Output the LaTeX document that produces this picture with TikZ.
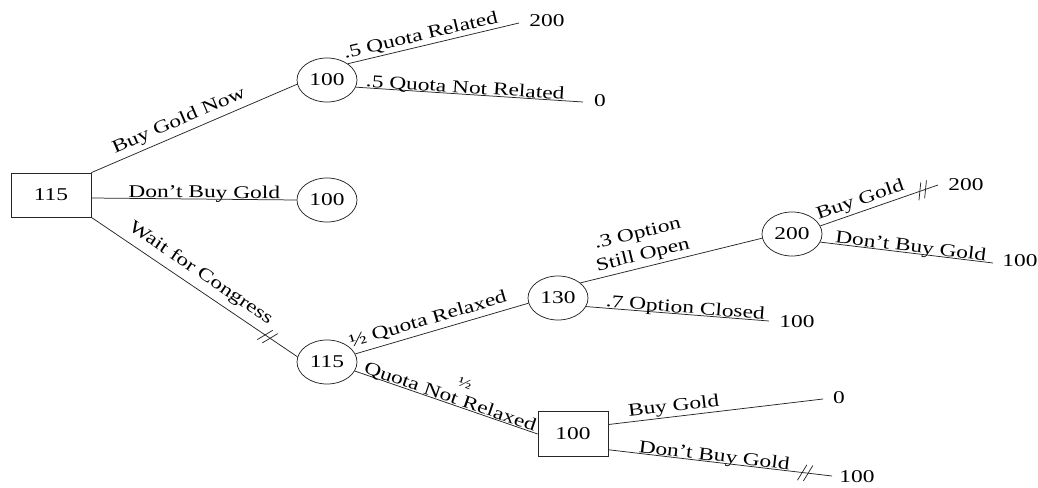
\documentclass[tikz,border=0pt]{standalone}
\usepackage{fontspec}
\setmainfont{Liberation Serif}[FakeStretch=1.3]
\usetikzlibrary{shapes.geometric,decorations.markings}

\newcommand\treefont{\fontsize{18}{22}\selectfont}
\newcommand\smallfrac{\fontsize{14}{14}\selectfont}

\tikzset{
  chance/.style={draw=black!85, line width=0.75pt, ellipse, minimum width=60pt,
                 minimum height=44pt, inner sep=0pt},
  decision/.style={draw=black!85, line width=0.75pt, rectangle, inner sep=0pt},
  branch/.style={draw=black!85, line width=0.75pt},
  tag/.style={sloped, inner sep=0pt},
  online/.style={anchor=base, yshift=1.2pt},
  payoff/.style={inner sep=0pt},
  % double stroke marking a pruned branch
  cut/.style={postaction={decorate}, decoration={markings,
      mark=at position #1 with {
        \draw[black!85, line width=0.75pt] (-6.8pt,-8.2pt) -- (0.8pt,8.2pt);
        \draw[black!85, line width=0.75pt] (-0.8pt,-8.2pt) -- (6.8pt,8.2pt);
      }}},
}

\begin{document}
\begin{tikzpicture}[x=1pt, y=-1pt, font=\treefont]
  \useasboundingbox (0,0) rectangle (1038,487);

  % decision and chance nodes
  \node[decision, minimum width=80pt, minimum height=44pt] (root) at (51,195) {115};
  \node[chance] (c1) at (327,80)  {100};
  \node[chance] (c2) at (327,200) {100};
  \node[chance] (c3) at (327,362) {115};
  \node[chance] (c4) at (558,298) {130};
  \node[chance] (c5) at (792,234) {200};
  \node[decision, minimum width=70pt, minimum height=45pt] (b2) at (573,434) {100};

  % free ends of the terminal branches
  \coordinate (q1)   at (519,23);
  \coordinate (q2)   at (583,102);
  \coordinate (oc)   at (769,321);
  \coordinate (bg)   at (938,185);
  \coordinate (dbg)  at (993,263);
  \coordinate (bg2)  at (823,399);
  \coordinate (dbg2) at (832,476);

  % payoffs
  \node[payoff] (v1) at (547,21)   {200};
  \node[payoff] (v2) at (600,101)  {0};
  \node[payoff] (v3) at (797,322)  {100};
  \node[payoff] (v4) at (966,185)  {200};
  \node[payoff] (v5) at (1020,261) {100};
  \node[payoff] (v6) at (839,398)  {0};
  \node[payoff] (v7) at (857,477)  {100};

  % first decision
  \draw[branch] (root.north east) -- node[tag, pos=0.45, above=4pt] {Buy Gold Now} (c1.188);
  \draw[branch] ([yshift=-3pt]root.east) -- node[tag, online, pos=0.55] {Don’t Buy Gold} (c2.west);
  \draw[branch, cut=0.855] (root.south east) -- node[tag, pos=0.49, above=6pt] {Wait for Congress} (c3.170);

  % buy now
  \draw[branch] (c1.38) -- node[tag, pos=0.44, above=2pt] {.5 Quota Related} (q1);
  \draw[branch] (c1.-14) -- node[tag, online, pos=0.48] {.5 Quota Not Related} (q2);

  % wait for congress
  \draw[branch] (c3.16) -- node[tag, pos=0.44, above=4pt] {½ Quota Relaxed} (c4.190);
  \draw[branch] (c3.-18) -- node[tag, online, pos=0.51] {Quota Not Relaxed}
                            node[tag, pos=0.56, above=19pt, font=\smallfrac] {½} (b2.west);

  % quota relaxed
  \draw[branch] (c4.34) -- node[tag, pos=0.36, above=3pt, align=center] {.3 Option\\Still Open} (c5.188);
  \draw[branch] (c4.-17) -- node[tag, online, pos=0.54] {.7 Option Closed} (oc);
  \draw[branch, cut=0.87] (c5.16) -- node[tag, pos=0.37, above=2pt] {Buy Gold} (bg);
  \draw[branch] (c5.-16) -- node[tag, online, pos=0.52] {Don’t Buy Gold} (dbg);

  % quota not relaxed
  \draw[branch] (b2.15) -- node[tag, pos=0.31, above=1pt] {Buy Gold} (bg2);
  \draw[branch, cut=0.88] (b2.-24) -- node[tag, online, pos=0.47] {Don’t Buy Gold} (dbg2);
\end{tikzpicture}
\end{document}
